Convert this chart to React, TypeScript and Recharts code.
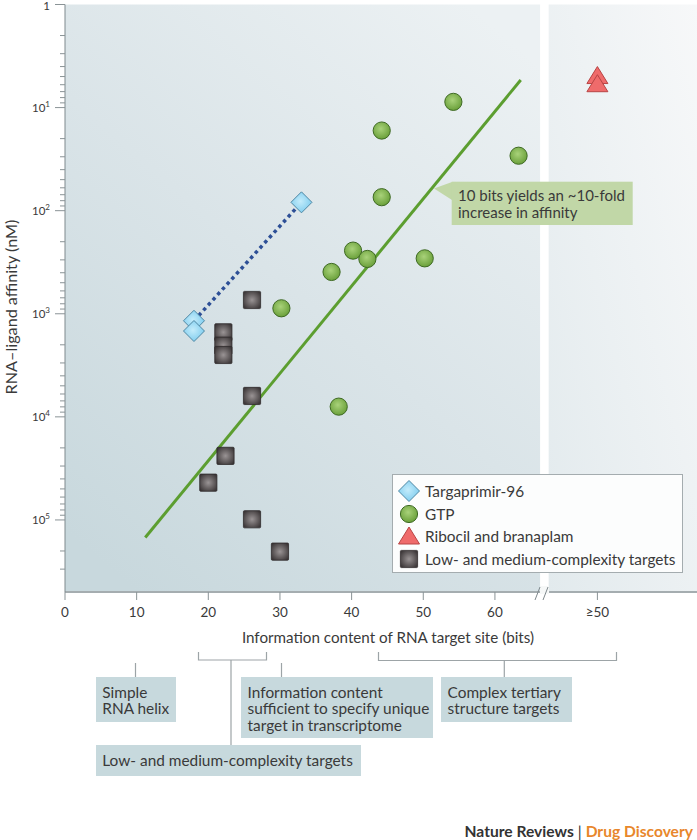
import { ScatterChart, Scatter, XAxis, YAxis, ReferenceArea, ReferenceLine } from 'recharts'

const FONT = 'Lato, "Open Sans", sans-serif'
const INK = '#3a3a3a'

// Targaprimir-96 (bits, nM)
const TARGA_BITS = [18, 18, 33]
const TARGA_NM = [1170, 1470, 83]

// GTP aptamers
const GTP_BITS = [54.2, 44.2, 63.3, 44.2, 40.2, 42.2, 50.2, 37.2, 30.2, 38.2]
const GTP_NM = [8.8, 16.7, 29.3, 74, 244, 294, 290, 393, 885, 7960]

// Ribocil and branaplam sit in the ">=50" column after the axis break
const GE50_POS = 74.3
const RIBO_NM = [5.0, 6.0]

// Low- and medium-complexity targets
const LOW_BITS = [26.1, 22.1, 22.1, 22.1, 26.1, 22.4, 20.0, 26.1, 30.0]
const LOW_NM = [735, 1513, 2040, 2510, 6270, 23900, 43500, 98500, 203000]

// trend line: 10 bits ~ 10-fold
const TREND_BITS = [11.2, 63.6]
const TREND_NM = [148000, 5.4]

// axis break (bits on the linear scale)
const BREAK_FROM = 66.3
const BREAK_TO = 67.5
const X_MAX = 88.2

const X_TICKS = [0, 10, 20, 30, 40, 50, 60, GE50_POS]
const X_TICK_LABELS = ['0', '10', '20', '30', '40', '50', '60', '≥50']

const Y_TICKS = [
  1, 2, 3, 4, 5, 6, 7, 8, 9,
  10, 20, 30, 40, 50, 60, 70, 80, 90,
  100, 200, 300, 400, 500, 600, 700, 800, 900,
  1000, 2000, 3000, 4000, 5000, 6000, 7000, 8000, 9000,
  10000, 20000, 30000, 40000, 50000, 60000, 70000, 80000, 90000,
  100000, 200000, 300000,
]

const toPts = (xs: number[], ys: number[]) => xs.map((x, i) => ({ x, y: ys[i] }))
const targaData = toPts(TARGA_BITS, TARGA_NM)
const gtpData = toPts(GTP_BITS, GTP_NM)
const riboData = RIBO_NM.map((y) => ({ x: GE50_POS, y }))
const lowData = toPts(LOW_BITS, LOW_NM)

function Diamond({ cx, cy }: { cx: number; cy: number }) {
  const r = 10.5
  return (
    <path
      d={`M${cx},${cy - r} L${cx + r},${cy} L${cx},${cy + r} L${cx - r},${cy} Z`}
      fill="url(#gDiamond)"
      stroke="#4f87a3"
      strokeWidth={1}
    />
  )
}

function Ball({ cx, cy }: { cx: number; cy: number }) {
  return <circle cx={cx} cy={cy} r={8.6} fill="url(#gBall)" stroke="#3f6a24" strokeWidth={1} />
}

function Tri({ cx, cy }: { cx: number; cy: number }) {
  return (
    <path
      d={`M${cx},${cy - 10} L${cx + 10.5},${cy + 7} L${cx - 10.5},${cy + 7} Z`}
      fill="#ef6b6b"
      stroke="#b84444"
      strokeWidth={1}
    />
  )
}

function Box({ cx, cy }: { cx: number; cy: number }) {
  const h = 8.6
  return (
    <rect x={cx - h} y={cy - h} width={h * 2} height={h * 2} rx={1} fill="url(#gBox)" stroke="#2e2a2b" strokeWidth={0.8} />
  )
}

function YTick(props: any) {
  const { x, y, payload } = props
  const v = payload.value as number
  const lg = Math.log10(v)
  const exp = Math.round(lg)
  const major = Math.abs(lg - exp) < 1e-6
  return (
    <g>
      <line x1={x - (major ? 10 : 5)} x2={x} y1={y} y2={y} stroke="#8a9396" strokeWidth={1} />
      {major && (
        <text x={x - 15} y={exp === 0 ? y + 1 : y} dy="0.36em" textAnchor="end" fontSize={11.5} fill={INK} fontFamily={FONT}>
          {exp === 0 ? (
            '1'
          ) : (
            <>
              10
              <tspan dy={-5} fontSize={8}>
                {exp}
              </tspan>
            </>
          )}
        </text>
      )}
    </g>
  )
}

function XTick(props: any) {
  const { x, y, payload } = props
  const i = X_TICKS.indexOf(payload.value)
  return (
    <g>
      <line x1={x} x2={x} y1={y} y2={y + 8} stroke="#8a9396" strokeWidth={1} />
      <text x={x} y={y + 20} dy="0.36em" textAnchor="middle" fontSize={13.5} fill={INK} fontFamily={FONT}>
        {X_TICK_LABELS[i]}
      </text>
    </g>
  )
}

const LEGEND = [
  { name: 'Targaprimir-96', icon: <Diamond cx={10} cy={10} /> },
  { name: 'GTP', icon: <Ball cx={10} cy={10} /> },
  { name: 'Ribocil and branaplam', icon: <Tri cx={10} cy={11} /> },
  { name: 'Low- and medium-complexity targets', icon: <Box cx={10} cy={10} /> },
]

const NOTE_BOX = {
  position: 'absolute' as const,
  background: '#c7d9dd',
  color: INK,
  fontSize: 15.4,
  lineHeight: '16.5px',
  boxSizing: 'border-box' as const,
  padding: '7px 6.6px',
  whiteSpace: 'nowrap' as const,
}

export default function App() {
  return (
    <div style={{ position: 'absolute', left: 0, top: 0, width: 697, height: 840, background: '#fff', fontFamily: FONT }}>
      <svg width={0} height={0} style={{ position: 'absolute' }}>
        <defs>
          <linearGradient id="bgLeft" x1="0.15" y1="1" x2="0.85" y2="0">
            <stop offset="0" stopColor="#c8d8dd" />
            <stop offset="0.5" stopColor="#dae4e8" />
            <stop offset="1" stopColor="#ecf1f3" />
          </linearGradient>
          <linearGradient id="bgRight" x1="0" y1="1" x2="1" y2="0">
            <stop offset="0" stopColor="#e2eaed" />
            <stop offset="1" stopColor="#f7f8f9" />
          </linearGradient>
          <radialGradient id="gDiamond" cx="0.45" cy="0.45" r="0.6">
            <stop offset="0" stopColor="#c4ecfb" />
            <stop offset="1" stopColor="#7ccbee" />
          </radialGradient>
          <radialGradient id="gBall" cx="0.45" cy="0.4" r="0.6">
            <stop offset="0" stopColor="#a9d27a" />
            <stop offset="1" stopColor="#6aa03a" />
          </radialGradient>
          <radialGradient id="gBox" cx="0.5" cy="0.5" r="0.6">
            <stop offset="0" stopColor="#9a9495" />
            <stop offset="1" stopColor="#3d3839" />
          </radialGradient>
        </defs>
      </svg>

      <ScatterChart width={697} height={650} margin={{ top: 4.5, right: 0, bottom: 0, left: 0 }}>
        <XAxis
          dataKey="x"
          type="number"
          domain={[0, X_MAX]}
          allowDataOverflow
          ticks={X_TICKS}
          interval={0}
          tick={<XTick />}
          tickLine={false}
          tickSize={0}
          tickMargin={0}
          height={58}
          axisLine={{ stroke: '#a5adb0', strokeWidth: 2 }}
          label={{
            value: 'Information content of RNA target site (bits)',
            position: 'insideBottom',
            offset: 7,
            dx: 7,
            fontSize: 15.2,
            fill: INK,
            fontFamily: FONT,
          }}
        />
        <YAxis
          dataKey="y"
          type="number"
          scale="log"
          domain={[1, 500000]}
          allowDataOverflow
          reversed
          ticks={Y_TICKS}
          interval={0}
          tick={<YTick />}
          tickLine={false}
          tickSize={0}
          tickMargin={0}
          width={65}
          axisLine={{ stroke: '#7f898d', strokeWidth: 1 }}
          label={{
            content: () => (
              <text transform="translate(17,307) rotate(-90)" textAnchor="middle" fontSize={16.2} fill={INK} fontFamily={FONT}>
                RNA–ligand affinity (nM)
              </text>
            ),
          }}
        />
        <ReferenceArea x1={0} x2={BREAK_FROM} y1={1} y2={500000} fill="url(#bgLeft)" fillOpacity={1} stroke="none" />
        <ReferenceArea x1={BREAK_TO} x2={X_MAX} y1={1} y2={500000} fill="url(#bgRight)" fillOpacity={1} stroke="none" />
        <ReferenceLine
          segment={[
            { x: TREND_BITS[0], y: TREND_NM[0] },
            { x: TREND_BITS[1], y: TREND_NM[1] },
          ]}
          stroke="#5c9e30"
          strokeWidth={3}
        />
        <ReferenceLine
          segment={[
            { x: TARGA_BITS[0], y: TARGA_NM[0] },
            { x: TARGA_BITS[2], y: TARGA_NM[2] },
          ]}
          stroke="#2d4f96"
          strokeWidth={3.5}
          strokeDasharray="3.5 3.5"
        />
        <Scatter data={lowData} isAnimationActive={false} shape={(p: any) => <Box cx={p.cx} cy={p.cy} />} />
        <Scatter data={gtpData} isAnimationActive={false} shape={(p: any) => <Ball cx={p.cx} cy={p.cy} />} />
        <Scatter data={targaData} isAnimationActive={false} shape={(p: any) => <Diamond cx={p.cx} cy={p.cy} />} />
        <Scatter data={riboData} isAnimationActive={false} shape={(p: any) => <Tri cx={p.cx} cy={p.cy} />} />
      </ScatterChart>

      {/* callout, axis break and the brackets under the axis */}
      <svg width={697} height={840} style={{ position: 'absolute', left: 0, top: 0, pointerEvents: 'none' }}>
        <polygon points="434,188.5 452,182 452,200" fill="#c1d7a7" />
        <rect x={451.7} y={181.7} width={181} height={43.3} fill="#c1d7a7" />
        <text x={458} y={201} fontSize={15} fill={INK} fontFamily={FONT}>
          10 bits yields an ~10-fold
        </text>
        <text x={458} y={217.5} fontSize={15} fill={INK} fontFamily={FONT}>
          increase in affinity
        </text>

        <rect x={540} y={586} width={9} height={8} fill="#f6f8f8" />
        <line x1={535} y1={600} x2={540} y2={587} stroke="#7f898d" strokeWidth={1} />
        <line x1={543} y1={600} x2={548} y2={587} stroke="#7f898d" strokeWidth={1} />

        <g stroke="#9da4a7" strokeWidth={1.2} fill="none">
          <path d="M198.5,652 V660 H266.5 V652" />
          <line x1={231} y1={660} x2={231} y2={745} />
          <line x1={135.5} y1={663} x2={135.5} y2={677} />
          <line x1={281.5} y1={663} x2={281.5} y2={677} />
          <path d="M378.5,652 V660.5 H616.5 V652" />
          <line x1={504.3} y1={660.5} x2={504.3} y2={677} />
        </g>
      </svg>

      <div style={{ ...NOTE_BOX, left: 95.7, top: 676.7, width: 80.5, height: 45 }}>
        Simple
        <br />
        RNA helix
      </div>
      <div style={{ ...NOTE_BOX, left: 241, top: 676.7, width: 192.3, height: 61.6 }}>
        Information content
        <br />
        sufficient to specify unique
        <br />
        target in transcriptome
      </div>
      <div style={{ ...NOTE_BOX, left: 441, top: 676.7, width: 130.7, height: 45 }}>
        Complex tertiary
        <br />
        structure targets
      </div>
      <div style={{ ...NOTE_BOX, left: 95.7, top: 745, width: 265.3, height: 31, lineHeight: '17px' }}>
        Low- and medium-complexity targets
      </div>

      <div
        style={{
          position: 'absolute',
          left: 392,
          top: 474,
          width: 291,
          height: 99,
          boxSizing: 'border-box',
          background: '#fcfdfd',
          border: '1px solid #a4acaf',
        }}
      >
        {LEGEND.map((item, i) => (
          <div
            key={item.name}
            style={{ position: 'absolute', left: 5, top: 5 + i * 22.5, height: 22, display: 'flex', alignItems: 'center' }}
          >
            <svg width={22} height={22} viewBox="-1 -1 22 22">
              {item.icon}
            </svg>
            <span style={{ marginLeft: 5, fontSize: 15.4, color: INK, whiteSpace: 'nowrap' }}>{item.name}</span>
          </div>
        ))}
      </div>

      <div style={{ position: 'absolute', right: 4, top: 822, fontSize: 15.6, fontWeight: 700, whiteSpace: 'nowrap' }}>
        <span style={{ color: '#333' }}>Nature Reviews</span>
        <span style={{ color: '#333', fontWeight: 400 }}> | </span>
        <span style={{ color: '#e8872c' }}>Drug Discovery</span>
      </div>
    </div>
  )
}
